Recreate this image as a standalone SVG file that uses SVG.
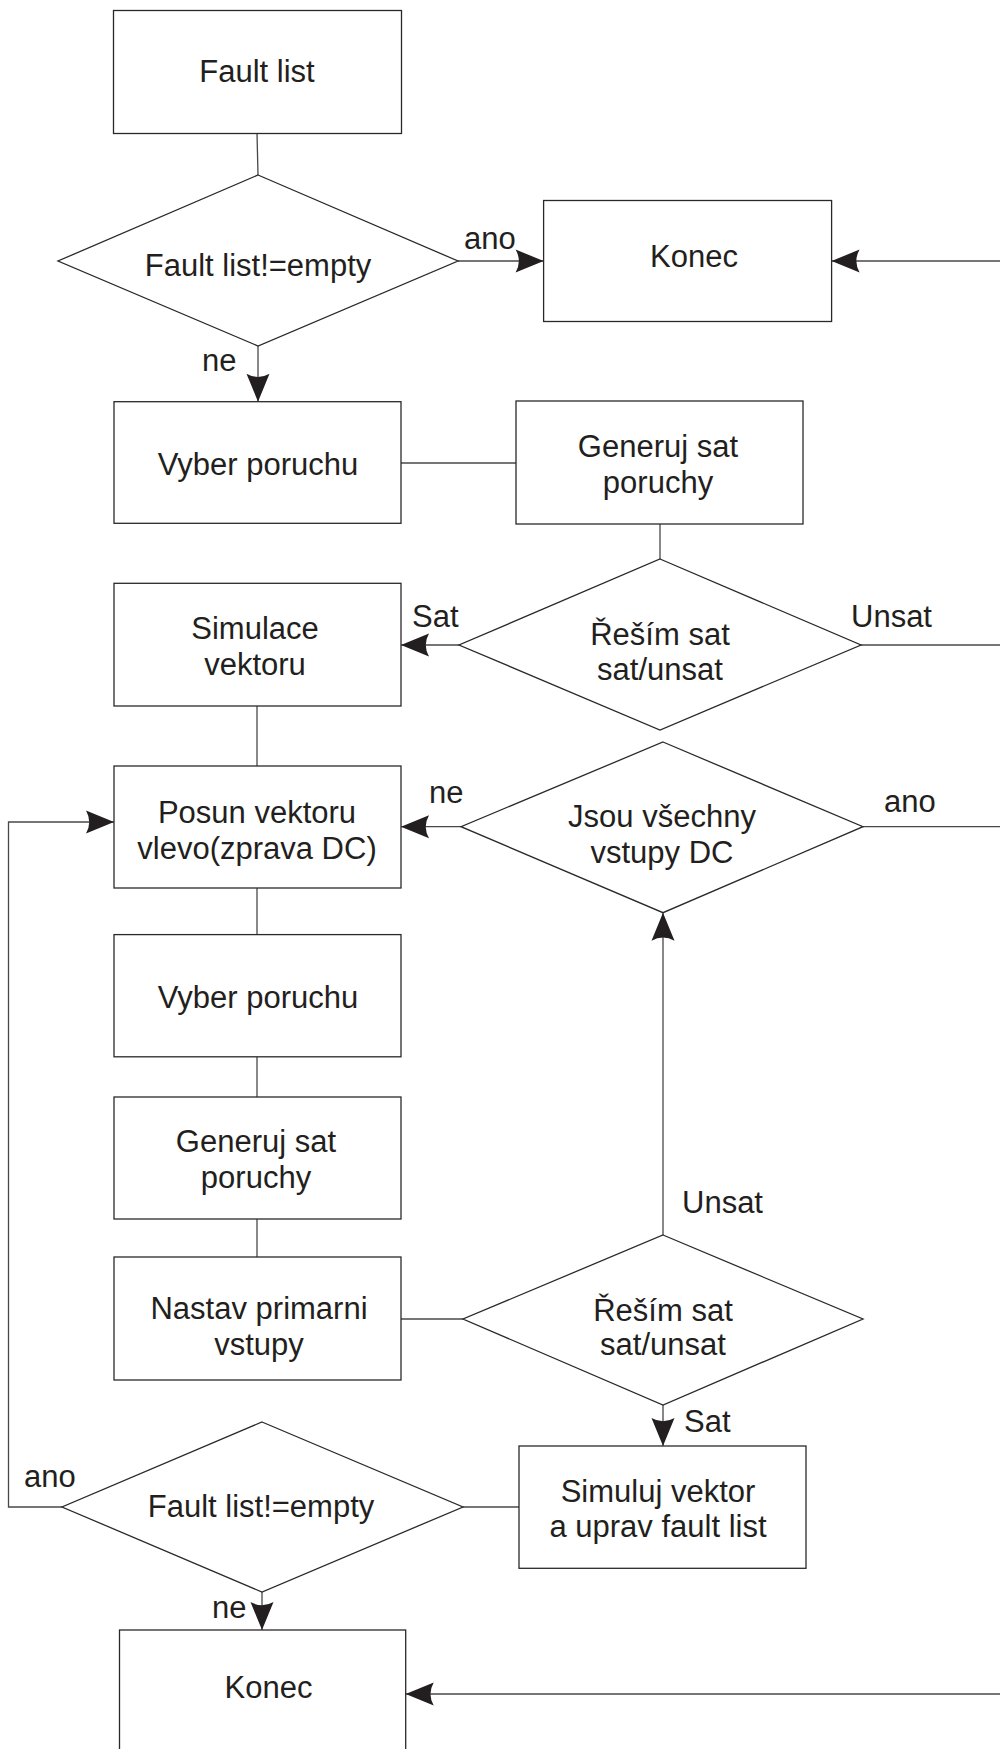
<svg xmlns="http://www.w3.org/2000/svg" width="1000" height="1749" viewBox="0 0 1000 1749">
<style>
  .shape { fill: #ffffff; stroke: #2b2829; stroke-width: 1.3; }
  .t { font-family: "Liberation Sans", Arial, sans-serif; font-size: 31px; fill: #231f20; text-anchor: middle; }
  .lbl { font-family: "Liberation Sans", Arial, sans-serif; font-size: 31px; fill: #231f20; text-anchor: start; }
  .c { fill: none; stroke: #4a4748; stroke-width: 1.3; }
  .ca { fill: none; stroke: #4a4748; stroke-width: 1.3; marker-end: url(#ah); }
</style>
<defs>
  <marker id="ah" markerUnits="userSpaceOnUse" markerWidth="32" markerHeight="26" viewBox="-30 -13 32 26" refX="0" refY="0" orient="auto">
    <path d="M0,0 L-28,-11.5 Q-21.5,0 -28,11.5 Z" fill="#231f20"/>
  </marker>
</defs>
<rect width="1000" height="1749" fill="#ffffff"/>

<g id="connectors">
  <line class="c" x1="257" y1="133" x2="258" y2="175"/>
  <line class="ca" x1="458" y1="261" x2="543.6" y2="261"/>
  <line class="ca" x1="258" y1="346" x2="258" y2="401.7"/>
  <line class="ca" x1="1000" y1="261" x2="831.6" y2="261"/>
  <line class="c" x1="401" y1="463" x2="516" y2="463"/>
  <line class="c" x1="660" y1="524" x2="660" y2="559"/>
  <line class="ca" x1="459" y1="645" x2="401" y2="645"/>
  <line class="c" x1="861" y1="645" x2="1000" y2="645"/>
  <line class="c" x1="257" y1="706" x2="257" y2="766"/>
  <line class="ca" x1="461" y1="826.7" x2="401" y2="826.7"/>
  <line class="c" x1="863" y1="826.7" x2="1000" y2="826.7"/>
  <line class="c" x1="257" y1="888" x2="257" y2="934.6"/>
  <line class="c" x1="257" y1="1056.8" x2="257" y2="1097"/>
  <line class="c" x1="257" y1="1219" x2="257" y2="1257"/>
  <line class="c" x1="401" y1="1319" x2="463" y2="1319"/>
  <line class="ca" x1="663" y1="1235" x2="663" y2="912.7"/>
  <line class="ca" x1="663" y1="1405" x2="663" y2="1446"/>
  <line class="c" x1="519" y1="1507" x2="463" y2="1507"/>
  <polyline class="ca" points="62,1507 8.5,1507 8.5,822 114,822"/>
  <line class="ca" x1="262" y1="1592" x2="262" y2="1630"/>
  <line class="ca" x1="1000" y1="1694" x2="405.7" y2="1694"/>
  <text class="lbl" x="464" y="249">ano</text>
  <text class="lbl" x="202" y="371">ne</text>
  <text class="lbl" x="412" y="627">Sat</text>
  <text class="lbl" x="851" y="627">Unsat</text>
  <text class="lbl" x="429" y="803">ne</text>
  <text class="lbl" x="884" y="812">ano</text>
  <text class="lbl" x="682" y="1213">Unsat</text>
  <text class="lbl" x="684" y="1432">Sat</text>
  <text class="lbl" x="24" y="1487">ano</text>
  <text class="lbl" x="212" y="1618">ne</text>
</g>

<g id="fault-list">
  <rect class="shape" x="113.5" y="10.5" width="288" height="123"/>
  <text class="t" x="257" y="82">Fault list</text>
</g>
<g id="check-empty-1">
  <polygon class="shape" points="258,175 458,261 258,346 58,261"/>
  <text class="t" x="258" y="276">Fault list!=empty</text>
</g>
<g id="konec-1">
  <rect class="shape" x="543.6" y="200.5" width="288" height="121"/>
  <text class="t" x="694" y="267">Konec</text>
</g>
<g id="vyber-1">
  <rect class="shape" x="114" y="401.7" width="287" height="121.6"/>
  <text class="t" x="258" y="475">Vyber poruchu</text>
</g>
<g id="generuj-1">
  <rect class="shape" x="516" y="401" width="287" height="123"/>
  <text class="t" x="658" y="457">Generuj sat</text>
  <text class="t" x="658" y="493">poruchy</text>
</g>
<g id="resim-1">
  <polygon class="shape" points="660,559 861,645 660,730 459,645"/>
  <text class="t" x="660" y="645">Řeším sat</text>
  <text class="t" x="660" y="680">sat/unsat</text>
</g>
<g id="simulace">
  <rect class="shape" x="114" y="583.3" width="287" height="122.7"/>
  <text class="t" x="255" y="639">Simulace</text>
  <text class="t" x="255" y="675">vektoru</text>
</g>
<g id="jsou-vsechny">
  <polygon class="shape" points="663,742 863,826.7 663,912.7 461,826.7"/>
  <text class="t" x="662" y="827">Jsou všechny</text>
  <text class="t" x="662" y="863">vstupy DC</text>
</g>
<g id="posun">
  <rect class="shape" x="114" y="766" width="287" height="122"/>
  <text class="t" x="257" y="822.6">Posun vektoru</text>
  <text class="t" x="257" y="858.8">vlevo(zprava DC)</text>
</g>
<g id="vyber-2">
  <rect class="shape" x="114" y="934.6" width="287" height="122.2"/>
  <text class="t" x="258" y="1008">Vyber poruchu</text>
</g>
<g id="generuj-2">
  <rect class="shape" x="114" y="1097" width="287" height="122"/>
  <text class="t" x="256" y="1152">Generuj sat</text>
  <text class="t" x="256" y="1188">poruchy</text>
</g>
<g id="nastav">
  <rect class="shape" x="114" y="1257" width="287" height="123"/>
  <text class="t" x="259" y="1319">Nastav primarni</text>
  <text class="t" x="259" y="1355">vstupy</text>
</g>
<g id="resim-2">
  <polygon class="shape" points="663,1235 863,1319 663,1405 463,1319"/>
  <text class="t" x="663" y="1321">Řeším sat</text>
  <text class="t" x="663" y="1355">sat/unsat</text>
</g>
<g id="simuluj">
  <rect class="shape" x="519" y="1446" width="287" height="122.3"/>
  <text class="t" x="658" y="1502">Simuluj vektor</text>
  <text class="t" x="658" y="1537">a uprav fault list</text>
</g>
<g id="check-empty-2">
  <polygon class="shape" points="262,1422 463,1507 262,1592 62,1507"/>
  <text class="t" x="261" y="1517">Fault list!=empty</text>
</g>
<g id="konec-2">
  <rect class="shape" x="119.5" y="1630" width="286.2" height="140"/>
  <text class="t" x="268.5" y="1698">Konec</text>
</g>
</svg>
